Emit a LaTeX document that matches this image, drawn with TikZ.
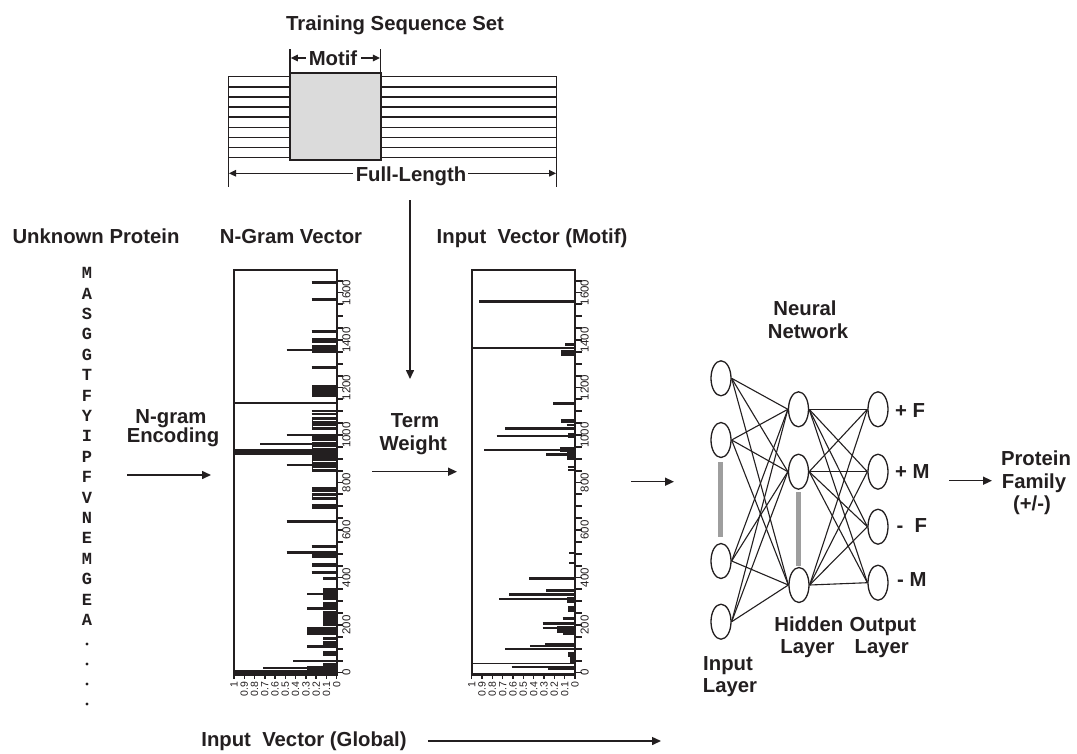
\documentclass[tikz,border=0pt]{standalone}
\usepackage{fontspec}
\setmainfont{Liberation Sans}
\newfontfamily\seqfont{Liberation Mono}
\usetikzlibrary{shapes.geometric,arrows.meta}
\definecolor{ink}{HTML}{231F20}

% frame, value axis (bottom) and position axis (right) of one vector plot
\newcommand\vecframe[2]{% #1 = left x, #2 = right x
  \draw[ink,line width=2pt] (#1,674) -- (#1,269.5) -- (#2,269.5) -- (#2,674);
  \draw[ink,line width=3pt] (#1-0.8,674) -- (#2+1,674);
  \foreach \p in {0,50,...,1650}
    \draw[ink,line width=1.8pt] (#2,672.5-0.2375*\p) -- ++(6.5,0);
  \foreach \p in {0,200,...,1600}
    \node[poslbl,rotate=90,anchor=north] at (#2+5.5,672.5-0.2375*\p) {\p};
  \foreach \k/\t in {0/0,1/0.1,2/0.2,3/0.3,4/0.4,5/0.5,6/0.6,7/0.7,8/0.8,9/0.9,10/1}{
    \draw[ink,line width=1.5pt] ({#2-\k*(#2-#1)/10},674) -- ++(0,5);
    \node[vallbl,rotate=90,anchor=east] at ({#2-\k*(#2-#1)/10},681.5) {\t};
  }
}

\begin{document}
\begin{tikzpicture}[x=1pt,y=-1pt,
  txt/.style={font=\bfseries\fontsize{20.3}{23}\selectfont, text=ink, inner sep=0pt, anchor=base},
  seq/.style={font=\seqfont\bfseries\fontsize{17}{17}\selectfont, text=ink, inner sep=0pt},
  poslbl/.style={font=\fontsize{11.5}{12}\selectfont, text=ink, inner sep=0pt},
  vallbl/.style={font=\fontsize{10.5}{11}\selectfont, text=ink, inner sep=0pt},
  arr/.style={draw=ink, line width=1.5pt, -{Triangle[length=9pt,width=8pt]}},
  dimarr/.style={draw=ink, line width=1.3pt, -{Triangle[length=7pt,width=6.5pt]}},
  neuron/.style={ellipse, draw=ink, line width=1.3pt, fill=white,
                 minimum width=20pt, minimum height=35pt, inner sep=0pt},
  link/.style={draw=ink, line width=1.1pt},
  spine/.style={draw=black!38, line width=5pt},
]
\fill[white] (0,0) rectangle (1077,753);
\useasboundingbox (0,0) rectangle (1077,753);

% ---------- training sequence set ----------
\node[txt] (title) at (395,30.5) {Training Sequence Set};
\foreach \i in {0,...,8}
  \draw[ink,line width=1.4pt] (228.3,76.7+10.1*\i) -- (556.7,76.7+10.1*\i);
\draw[ink,line width=1.5pt] (228.3,76.7) -- (228.3,187);
\draw[ink,line width=1.5pt] (556.7,76.7) -- (556.7,187);
\draw[ink,line width=2pt,fill=black!14] (290,72.7) rectangle (380.7,160);
\draw[ink,line width=1.5pt] (290,49) -- (290,72.7);
\draw[ink,line width=1.5pt] (380.7,49) -- (380.7,72.7);
\coordinate (mL) at (290.8,58);
\coordinate (mR) at (379.9,58);
\node[txt] (motif) at (333,65) {Motif};
\draw[dimarr] (motif.west |- mL) ++(-3,0) -- (mL);
\draw[dimarr] (motif.east |- mR) ++(4,0) -- (mR);
\coordinate (fL) at (229,173.3);
\coordinate (fR) at (556,173.3);
\node[txt] (full) at (411,181.5) {Full-Length};
\draw[dimarr] (full.west |- fL) ++(-3,0) -- (fL);
\draw[dimarr] (full.east |- fR) ++(2,0) -- (fR);
\coordinate (selTop) at (410,200);
\coordinate (selEnd) at (410,379);
\draw[arr] (selTop) -- (selEnd);

% ---------- column headers ----------
\node[txt] (hProt) at (96,243) {Unknown Protein};
\node[txt] (hGram) at (291,243) {N-Gram Vector};
\node[txt] (hMotif) at (532,243) {Input\ \ Vector (Motif)};

% ---------- unknown protein sequence ----------
\foreach \c [count=\i from 0] in {M,A,S,G,G,T,F,Y,I,P,F,V,N,E,M,G,E,A}
  \node[seq] (s\i) at (87,273+20.4*\i) {\c};
\foreach \y [count=\i from 18] in {644,664,684,704}
  \fill[ink] (87,\y) circle (1.7);

% ---------- n-gram encoding ----------
\node[txt] (enc1) at (171,423.3) {N-gram};
\node[txt] (enc2) at (173,442.7) {Encoding};
\coordinate (encA) at (127,475);
\coordinate (encB) at (211,475);
\draw[arr] (encA) -- (encB);

% ---------- n-gram vector ----------
\foreach \y/\xl/\w in {282.7/311.7/3, 299.3/311.7/3, 331.7/311.7/2.5, 350/286.7/2.5,
    367.3/311.7/3, 402.7/234/2, 410.5/311.7/2, 414/311.7/2, 435/286.7/2.5,
    444/260/2.5, 465/286.7/2.5, 521.7/286.7/2.5, 546.7/311.7/3, 552.7/286.7/2.5,
    572.7/311.7/2.5, 594/307.3/2.5, 608.3/307.3/2.5, 661/293.3/2.5, 668.3/263.3/2}
  \draw[ink,line width=\w] (\xl,\y) -- (336.7,\y);
\foreach \ya/\yb/\xl in {338/343/311.7, 345/353/311.7, 385/397/311.7, 417/430/311.7,
    436/441/311.7, 442/458/311.7, 449/454.5/234, 457/472/311.7, 486.7/491.7/311.7,
    493/500/311.7, 504/509/311.7, 553/558/311.7, 563/567/311.7, 576.7/580/322.7,
    588/600/322.7, 601.7/621.7/322.7, 622/626/322.7, 626.7/635/307.3,
    636.7/647/322.7, 645/648/307.3, 651/656/322.7, 663/670/322.7, 666/670/307.3,
    670/674/234}
  \fill[ink] (\xl,\ya) rectangle (336.7,\yb);
\foreach \y in {420.5,426,447.5,461,468,496.5,610,640}
  \draw[white,line width=0.6pt] (312.5,\y) -- (335.5,\y);
\vecframe{234}{336.7}

% ---------- term weighting ----------
\node[txt] (tw1) at (415,427.3) {Term};
\node[txt] (tw2) at (413.3,450.7) {Weight};
\coordinate (twA) at (372,471.7);
\coordinate (twB) at (457,471.7);
\draw[arr] (twA) -- (twB);

% ---------- motif input vector ----------
\foreach \y/\xl/\w in {301/479/3, 348.3/471.7/2, 403.3/553.3/2.5, 424.5/566.7/2,
    428.7/505/2.5, 436/496.7/2.5, 450/484/2.5, 454.5/546/2.5, 467/568/2, 470/568.3/2,
    552.7/569/2, 563.3/569/2, 578.3/529.3/2.5, 590.5/546/2.5, 594.3/509.3/2.5,
    599/499/2.5, 618.3/562.7/2.5, 623.5/542.7/2.5, 628/542.7/2.5, 644/545/2,
    645.7/530/2, 649/505/2.5, 663.3/471.7/1.5, 666.5/511.7/2, 669/548/2}
  \draw[ink,line width=\w] (\xl,\y) -- (575,\y);
\foreach \ya/\yb/\xl in {343/346/565, 350/355.5/560.7, 419/423/560.7, 433/438/568,
    446.7/452/560, 451.7/460/566.7, 596.7/603.3/566.7, 606/612/568.3,
    626/633/556.7, 630.7/635/562.7, 643/647/566.7, 651.7/656.7/568.3, 656.7/663.3/570}
  \fill[ink] (\xl,\ya) rectangle (575,\yb);
\vecframe{471.7}{575}

\coordinate (nnA) at (631,481.7);
\coordinate (nnB) at (674,481.7);
\draw[arr] (nnA) -- (nnB);

% ---------- global input vector ----------
\node[txt] (glob) at (304,746.7) {Input\ \ Vector (Global)};
\coordinate (glB) at (661,741);
\draw[arr] (glob.east |- glB) ++(21,0) -- (glB);

% ---------- neural network ----------
\node[txt] (nn1) at (805,315) {Neural};
\node[txt] (nn2) at (808,338.3) {Network};
\draw[spine] (720,462) -- (720,537);
\draw[spine] (798.5,492) -- (798.5,566);
\node[neuron] (i1) at (721,378.3) {};
\node[neuron] (i2) at (721,440) {};
\node[neuron] (i3) at (721,561) {};
\node[neuron] (i4) at (721,621.7) {};
\node[neuron] (h1) at (798.5,409.3) {};
\node[neuron] (h2) at (798.5,471.7) {};
\node[neuron] (h3) at (799,585) {};
\node[neuron] (o1) at (878,409.3) {};
\node[neuron] (o2) at (878,471.7) {};
\node[neuron] (o3) at (878,526.7) {};
\node[neuron] (o4) at (878,582.7) {};
\foreach \a in {i1,i2,i3,i4}
  \foreach \b in {h1,h2,h3}
    \draw[link] (\a.east) -- (\b.west);
\foreach \a in {h1,h2,h3}
  \foreach \b in {o1,o2,o3,o4}
    \draw[link] (\a.east) -- (\b.west);

\node[txt,anchor=base west] (lPF) at (895,417.3) {+ F};
\node[txt,anchor=base west] (lPM) at (895,478.3) {+ M};
\node[txt,anchor=base west] (lMF) at (896.5,532.3) {-\ \ F};
\node[txt,anchor=base west] (lMM) at (897,586.7) {- M};

\node[txt] (in1) at (728,670) {Input};
\node[txt] (in2) at (730,692) {Layer};
\node[txt] (hi1) at (808.8,631.7) {Hidden};
\node[txt] (hi2) at (807.5,653.5) {Layer};
\node[txt] (ou1) at (882.8,631.7) {Output};
\node[txt] (ou2) at (881.7,653.5) {Layer};

% ---------- classification ----------
\coordinate (pfA) at (949,480.7);
\coordinate (pfB) at (992,480.7);
\draw[arr] (pfA) -- (pfB);
\node[txt] (pf1) at (1036,465) {Protein};
\node[txt] (pf2) at (1034,488.3) {Family};
\node[txt] (pf3) at (1032,510) {(+/-)};
\end{tikzpicture}
\end{document}
